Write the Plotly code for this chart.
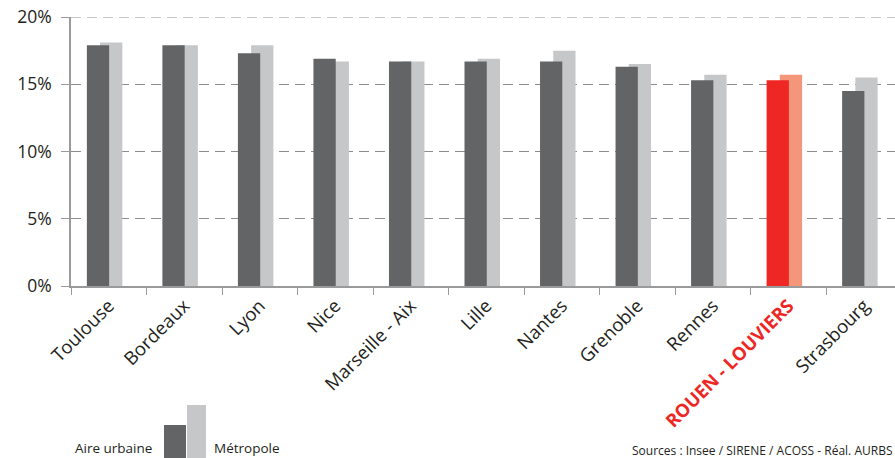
import plotly.graph_objects as go

categories = ["Toulouse", "Bordeaux", "Lyon", "Nice", "Marseille - Aix", "Lille",
              "Nantes", "Grenoble", "Rennes", "ROUEN - LOUVIERS", "Strasbourg"]
aire_urbaine = [17.9, 17.9, 17.3, 16.9, 16.7, 16.7, 16.7, 16.3, 15.3, 15.3, 14.5]
metropole = [18.1, 17.9, 17.9, 16.7, 16.7, 16.9, 17.5, 16.5, 15.7, 15.7, 15.5]
y_ticks = [0, 5, 10, 15, 20]
y_tick_labels = ["0%", "5%", "10%", "15%", "20%"]

highlight = "ROUEN - LOUVIERS"
dark = "#636466"
light = "#c6c7c9"
red = "#ee2724"
salmon = "#f4967a"

dark_colors = [red if c == highlight else dark for c in categories]
light_colors = [salmon if c == highlight else light for c in categories]
tick_text = [f"<b><span style='color:{red}'>{c}</span></b>" if c == highlight else c
             for c in categories]

FONT = "Open Sans"

L, T, B = 71, 17, 172
W, H = 895, 458
PW, PH = W - L, H - T - B


def px(x):
    return (x - L) / PW


def py(y):
    return (H - B - y) / PH


fig = go.Figure()
fig.add_trace(go.Bar(x=categories, y=metropole, marker=dict(color=light_colors, line=dict(width=0)),
                     offset=-0.115, width=0.295, name="Métropole"))
fig.add_trace(go.Bar(x=categories, y=aire_urbaine, marker=dict(color=dark_colors, line=dict(width=0)),
                     offset=-0.29, width=0.295, name="Aire urbaine"))

fig.update_layout(
    width=W, height=H,
    margin=dict(l=L, r=0, t=T, b=B),
    paper_bgcolor="white", plot_bgcolor="white",
    barmode="overlay", showlegend=False,
    font=dict(family=FONT, size=16, color="#231f20"),
    xaxis=dict(
        tickmode="array", tickvals=categories, ticktext=tick_text,
        tickangle=-45, tickson="boundaries", ticks="outside", ticklen=7,
        tickcolor="#9a9a9a", showline=True, linecolor="#9a9a9a", linewidth=1.5,
        range=[-0.5, 10.41], showgrid=False, tickfont=dict(size=18.5),
        automargin=False,
    ),
    yaxis=dict(
        range=[0, 20], tickvals=y_ticks, ticktext=y_tick_labels,
        ticks="outside", ticklen=8, tickcolor="#9a9a9a",
        showline=True, linecolor="#9a9a9a", linewidth=1.5,
        showgrid=True, gridcolor="#8c8c8c", gridwidth=1, griddash="10px,6px",
        zeroline=False, ticklabelstandoff=6, tickfont=dict(size=17.5),
        automargin=False,
    ),
)

# dashed gridline at the top of the axis (20%)
fig.add_shape(type="line", xref="paper", yref="y", x0=0, x1=1, y0=y_ticks[-1], y1=y_ticks[-1],
              line=dict(color="#8c8c8c", width=1, dash="10px,6px"), layer="below")

# legend (custom, bottom left)
fig.add_shape(type="rect", xref="paper", yref="paper",
              x0=px(164), x1=px(186), y0=py(460), y1=py(425),
              fillcolor=dark, line=dict(width=0), layer="above")
fig.add_shape(type="rect", xref="paper", yref="paper",
              x0=px(187), x1=px(206), y0=py(460), y1=py(405),
              fillcolor=light, line=dict(width=0), layer="above")
fig.add_annotation(text="Aire urbaine", xref="paper", yref="paper",
                   x=px(154), y=py(448), xanchor="right", yanchor="middle",
                   showarrow=False, font=dict(size=13.5, color="#231f20"))
fig.add_annotation(text="Métropole", xref="paper", yref="paper",
                   x=px(212), y=py(448), xanchor="left", yanchor="middle",
                   showarrow=False, font=dict(size=13.5, color="#231f20"))
fig.add_annotation(text="Sources : Insee / SIRENE / ACOSS - Réal. AURBS", xref="paper", yref="paper",
                   x=px(894), y=py(450), xanchor="right", yanchor="middle",
                   showarrow=False, font=dict(size=12, color="#231f20"))

fig.write_html("out.html", config={"displayModeBar": False},
               post_script="document.body.style.margin='0';")
